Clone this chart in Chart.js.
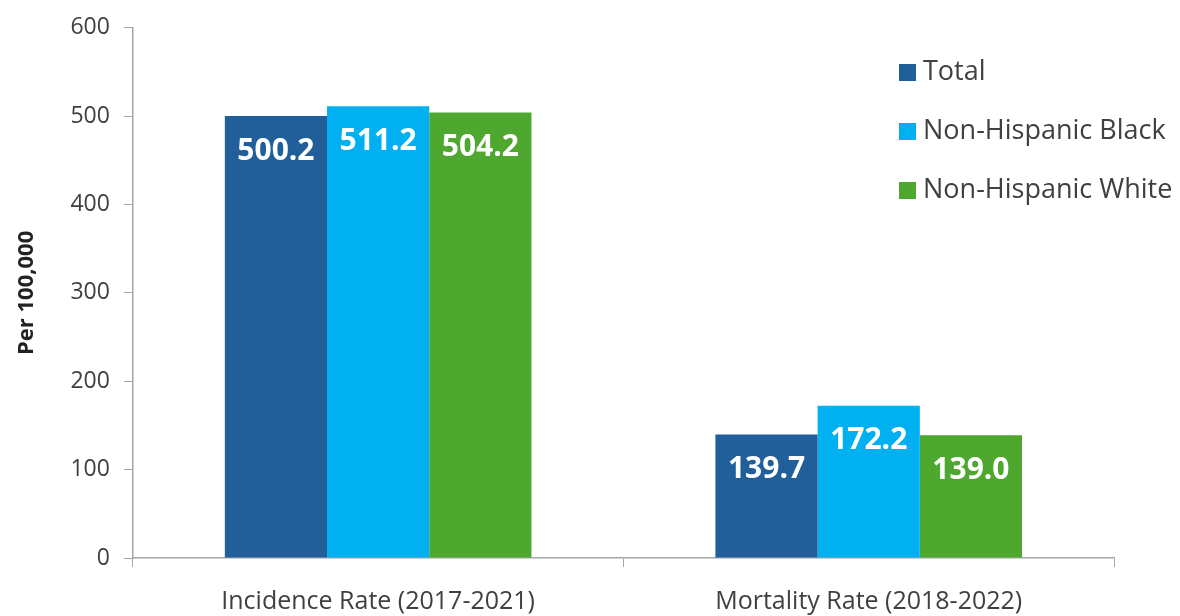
<!DOCTYPE html>
<html>
<head>
<meta charset="utf-8">
<script src="https://cdn.jsdelivr.net/npm/chart.js@4.4.0/dist/chart.umd.min.js"></script>
<style>
  body { margin: 0; background: #fff; }
  #wrap { width: 1180px; height: 616px; }
</style>
</head>
<body>
<div id="wrap"><canvas id="rateChart" width="1180" height="616"></canvas></div>
<script>
// ===========================
// DATA
// ===========================
const categories = ["Incidence Rate (2017-2021)", "Mortality Rate (2018-2022)"];
const seriesNames = ["Total", "Non-Hispanic Black", "Non-Hispanic White"];
const totalValues = [500.2, 139.7];
const blackValues = [511.2, 172.2];
const whiteValues = [504.2, 139.0];
const yTicks = [0, 100, 200, 300, 400, 500, 600];

const seriesColors = ["#215F9A", "#00B0F0", "#4EA72E"];
const textColor = "#404040";
const axisColor = "#A6A6A6";
const fontFamily = "'Open Sans', 'Noto Sans', sans-serif";

// ===========================
// PLUGINS
// ===========================

// value labels drawn inside the top of each bar
const barLabels = {
  id: "barLabels",
  afterDatasetsDraw(chart) {
    const ctx = chart.ctx;
    ctx.save();
    ctx.fillStyle = "#fff";
    ctx.font = "bold 30px " + fontFamily;
    ctx.textAlign = "center";
    ctx.textBaseline = "middle";
    chart.data.datasets.forEach((ds, i) => {
      chart.getDatasetMeta(i).data.forEach((bar, j) => {
        ctx.fillText(ds.data[j].toFixed(1), bar.x, bar.y + 35);
      });
    });
    ctx.restore();
  }
};

// legend placed inside the plot, top right
const cornerLegend = {
  id: "cornerLegend",
  afterDraw(chart) {
    const ctx = chart.ctx;
    ctx.save();
    ctx.font = "27px " + fontFamily;
    ctx.textBaseline = "middle";
    chart.data.datasets.forEach((ds, i) => {
      const y = 72 + i * 59;
      ctx.fillStyle = ds.backgroundColor;
      ctx.fillRect(899, y - 8, 17, 17);
      ctx.fillStyle = textColor;
      ctx.fillText(ds.label, 923, y);
    });
    ctx.restore();
  }
};

// ===========================
// CHART
// ===========================
const datasets = [totalValues, blackValues, whiteValues].map((vals, i) => ({
  label: seriesNames[i],
  data: vals,
  backgroundColor: seriesColors[i],
  borderWidth: 0,
  categoryPercentage: 0.625,
  barPercentage: 1.0
}));

new Chart(document.getElementById("rateChart"), {
  type: "bar",
  data: { labels: categories, datasets: datasets },
  options: {
    responsive: false,
    animation: false,
    layout: { padding: { top: 7, right: 66, left: 10, bottom: -21 } },
    plugins: {
      legend: { display: false },
      tooltip: { enabled: false }
    },
    scales: {
      x: {
        grid: {
          display: true,
          drawOnChartArea: false,
          drawTicks: true,
          tickLength: 9,
          color: axisColor
        },
        border: { display: true, color: axisColor, width: 1.5 },
        ticks: {
          color: textColor,
          font: { family: fontFamily, size: 25 },
          padding: 20
        }
      },
      y: {
        min: 0,
        max: 600,
        afterBuildTicks(axis) {
          axis.ticks = yTicks.map(v => ({ value: v }));
        },
        grid: {
          display: true,
          drawOnChartArea: false,
          drawTicks: true,
          tickLength: 9,
          color: axisColor
        },
        border: { display: true, color: axisColor, width: 1.5 },
        ticks: {
          color: textColor,
          font: { family: fontFamily, size: 23 },
          padding: 14
        },
        title: {
          display: true,
          text: "Per 100,000",
          color: "#222",
          font: { family: fontFamily, size: 22, weight: "bold" },
          padding: { bottom: 16 }
        }
      }
    }
  },
  plugins: [barLabels, cornerLegend]
});
</script>
</body>
</html>
